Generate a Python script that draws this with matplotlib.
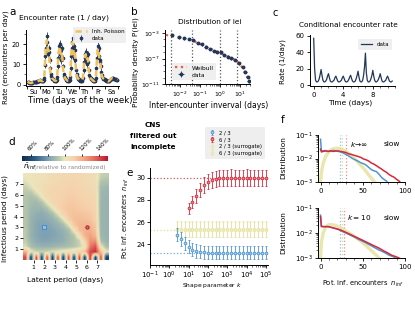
import numpy as np
import matplotlib
matplotlib.use('Agg')
import matplotlib.pyplot as plt
from matplotlib.colors import LinearSegmentedColormap
from matplotlib.ticker import LogLocator, NullFormatter, FixedLocator, MultipleLocator

# ---------------- data ----------------
# panel a: hourly encounter rate per day of week
day_names = ['Su', 'Mo', 'Tu', 'We', 'Th', 'Fr', 'Sa']
rate_su = [1.5, 1.3, 1.1, 1.0, 0.9, 0.8, 0.8, 0.8, 0.9, 1.0, 1.1, 1.2, 1.2, 1.3, 1.3, 1.3, 1.4, 1.5, 1.6, 1.7, 1.8, 1.9, 2.0, 2.2]
rate_mo = [2.2, 2.0, 1.8, 1.7, 1.7, 1.8, 2.2, 3.5, 9.5, 14, 17, 18, 24, 21, 15, 18, 16, 12, 8, 5, 4.0, 3.5, 3.0, 2.8]
rate_tu = [2.6, 2.3, 2.0, 1.9, 1.9, 2.0, 2.4, 3.8, 9, 13, 16, 19, 20, 15, 12, 17, 18, 13, 9, 5, 4.2, 3.6, 3.1, 2.8]
rate_we = [2.5, 2.2, 2.0, 1.9, 1.9, 2.0, 2.4, 3.8, 8, 14, 18, 21, 23, 16, 13, 19, 17, 12, 7, 5, 4.0, 3.4, 3.0, 2.7]
rate_th = [2.5, 2.2, 2.0, 1.9, 1.9, 2.0, 2.3, 3.5, 7, 11, 13, 15, 16, 12, 10, 14, 15, 11, 7, 4.5, 3.8, 3.2, 2.9, 2.6]
rate_fr = [2.4, 2.1, 1.9, 1.8, 1.8, 1.9, 2.2, 3.4, 8, 13, 17, 19, 18, 14, 11, 12, 9, 6, 4.5, 3.8, 3.3, 3.0, 2.8, 2.6]
rate_sa = [2.4, 2.2, 2.0, 1.8, 1.7, 1.6, 1.6, 1.7, 1.9, 2.2, 2.5, 2.8, 3.0, 3.1, 3.2, 3.1, 3.0, 2.9, 2.8, 2.7, 2.6, 2.5, 2.5, 2.4]
err_weekday = [0.4, 0.4, 0.4, 0.4, 0.4, 0.4, 0.4, 0.6, 1.2, 1.5, 1.7, 2.0, 2.2, 1.8, 1.6, 1.8, 1.7, 1.4, 1.0, 0.7, 0.5, 0.5, 0.4, 0.4]
err_weekend = [0.3] * 24
poi_su = [1.5, 1.3, 1.1, 1.0, 0.9, 0.8, 0.8, 0.8, 0.9, 1.0, 1.1, 1.2, 1.2, 1.3, 1.3, 1.3, 1.4, 1.5, 1.6, 1.7, 1.8, 1.9, 2.0, 2.2]
poi_mo = [2.2, 2.0, 1.8, 1.7, 1.7, 1.8, 2.2, 3.5, 9, 14, 18, 20, 22, 19, 17, 17, 15, 11, 7, 5, 4.0, 3.5, 3.0, 2.8]
poi_tu = [2.6, 2.3, 2.0, 1.9, 1.9, 2.0, 2.4, 3.8, 8.5, 13, 16, 18, 19, 16, 15, 16, 16, 12, 8, 5, 4.2, 3.6, 3.1, 2.8]
poi_we = [2.5, 2.2, 2.0, 1.9, 1.9, 2.0, 2.4, 3.8, 8, 14, 18, 20, 21, 17, 15, 17, 16, 11, 7, 5, 4.0, 3.4, 3.0, 2.7]
poi_th = [2.5, 2.2, 2.0, 1.9, 1.9, 2.0, 2.3, 3.5, 7, 11, 13, 14, 15, 13, 12, 13, 13, 10, 7, 4.5, 3.8, 3.2, 2.9, 2.6]
poi_fr = [2.4, 2.1, 1.9, 1.8, 1.8, 1.9, 2.2, 3.4, 8, 13, 16, 18, 17, 14, 12, 11, 9, 6, 4.5, 3.8, 3.3, 3.0, 2.8, 2.6]
poi_sa = [2.4, 2.2, 2.0, 1.8, 1.7, 1.6, 1.6, 1.7, 1.9, 2.2, 2.5, 2.8, 3.0, 3.1, 3.2, 3.1, 3.0, 2.9, 2.8, 2.7, 2.6, 2.5, 2.5, 2.4]

# panel b: inter-encounter interval distribution
iei_x = [3.8e-3, 9.3e-3, 1.66e-2, 2.95e-2, 4.7e-2, 7.6e-2, 0.12, 0.2, 0.32, 0.5, 0.74,
         1.07, 1.66, 2.4, 3.5, 5.6, 8.3, 13.2, 17.8, 23.4, 28.2]
iei_y = [4.9e-4, 2.1e-4, 1.45e-4, 1.15e-4, 7.9e-5, 3.0e-5, 1.66e-5, 7.1e-6, 3.5e-6, 1.7e-6, 1.05e-6,
         9.3e-7, 3.5e-7, 2.0e-7, 1.07e-7, 6.3e-8, 1.74e-8, 5.2e-9, 8.5e-10, 1.4e-10, 2.5e-11]
weib_x = [2e-3, 5e-3, 1e-2, 3e-2, 0.1, 0.3, 0.7, 1.0, 2, 5, 10, 20, 30]
weib_y = [5.0e-4, 2.8e-4, 1.8e-4, 1.0e-4, 2.0e-5, 4.0e-6, 1.26e-6, 7.9e-7, 2.5e-7, 7.9e-8, 1.26e-8, 4.0e-10, 1.6e-11]
iei_marks = [3.47e-3, 4.17e-2, 1.0, 7.0]  # 5 min, 1 h, 1 day, 1 week

# panel c: conditional encounter rate (8 samples per day)
cond_rate = [57, 20, 6, 4, 4, 5, 8, 13,
             19, 12, 6, 4, 4, 5, 7, 11,
             14, 9, 5, 4, 4, 5, 6, 9,
             11, 8, 5, 4, 4, 5, 6, 9,
             11, 8, 5, 4, 4, 5, 7, 10,
             12, 8, 5, 4, 4, 5, 8, 12,
             17, 10, 5, 4, 4, 6, 12, 22,
             39, 15, 6, 4, 4, 5, 8, 12,
             18, 11, 6, 4, 4, 5, 7, 10,
             14, 9, 5, 4, 4, 5, 6, 9,
             11, 8, 5, 4, 4, 5]

# panel d: n_inf relative to randomized (%), rows: infectious period 7.75 -> 0.25, cols: latent 0.25 -> 7.75
ninf_rel = [
    [100, 101, 102, 103, 104, 105, 106, 107, 107, 107, 107, 106, 105, 104, 95, 94],
    [99, 101, 102, 103, 104, 106, 107, 107, 108, 108, 107, 106, 105, 104, 92, 91],
    [95, 99, 103, 104, 106, 107, 108, 108, 109, 109, 108, 107, 106, 105, 89, 88],
    [93, 93, 99, 104, 107, 108, 109, 109, 110, 110, 109, 108, 107, 106, 88, 87],
    [92, 90, 92, 99, 106, 108, 109, 110, 111, 111, 110, 109, 108, 107, 88, 86],
    [92, 89, 88, 91, 99, 107, 109, 111, 112, 112, 111, 110, 109, 107, 87, 86],
    [92, 88, 87, 87, 91, 99, 108, 111, 113, 113, 112, 111, 110, 108, 87, 86],
    [92, 87, 85, 84, 86, 90, 99, 109, 113, 114, 114, 113, 112, 109, 87, 86],
    [92, 86, 84, 83, 84, 86, 90, 99, 111, 115, 116, 115, 114, 110, 87, 86],
    [92, 86, 83, 82, 82, 84, 86, 90, 99, 113, 117, 118, 117, 112, 87, 86],
    [93, 86, 83, 81, 81, 82, 84, 86, 90, 101, 116, 119, 120, 114, 87, 86],
    [93, 86, 83, 81, 81, 82, 83, 85, 88, 92, 104, 119, 123, 117, 88, 86],
    [94, 87, 84, 82, 82, 83, 84, 85, 88, 91, 95, 109, 126, 126, 90, 87],
    [97, 90, 87, 86, 86, 87, 88, 89, 90, 92, 95, 100, 131, 138, 100, 90],
    [120, 100, 96, 95, 96, 98, 100, 102, 104, 106, 108, 115, 140, 145, 115, 100],
    [140, 58, 140, 58, 140, 58, 140, 58, 140, 58, 140, 58, 145, 58, 140, 58],
]
cb_ticks = [60, 80, 100, 120, 140]
mark_blue = (2, 3)
mark_red = (6, 3)

# panel e: n_inf vs shape parameter k
k_blue = 10 ** np.arange(0.4, 5.01, 0.2)
n_blue = [24.85, 24.45, 24.06, 23.76, 23.5, 23.36, 23.3, 23.25, 23.22, 23.2, 23.2, 23.2,
          23.2, 23.2, 23.2, 23.2, 23.2, 23.2, 23.2, 23.2, 23.2, 23.2, 23.2, 23.2]
e_blue = [0.6] * 24
k_red = 10 ** np.arange(1.0, 5.01, 0.2)
n_red = [27.25, 27.85, 28.36, 28.9, 29.36, 29.67, 29.8, 29.9, 30.0, 30.0, 30.0, 30.02, 30.0,
         30.01, 30.0, 30.02, 30.0, 30.0, 30.01, 30.0, 30.0]
e_red = [0.5, 0.55, 0.6, 0.65, 0.7, 0.72, 0.75, 0.75, 0.75, 0.75, 0.75, 0.75, 0.75,
         0.75, 0.75, 0.75, 0.75, 0.75, 0.75, 0.75, 0.75]
n_sur23 = [25.35] * 24
n_sur63 = [25.3] * 24
e_sur = [0.7] * 24
ref_blue, ref_red, ref_sur = 23.2, 30.0, 25.32

# panel f: distributions of n_inf
n_f = [0, 1, 3, 6, 9, 12, 15, 18, 21, 24, 27, 30, 33, 36, 39, 42, 45, 48, 51, 54, 57, 60, 63, 66, 69, 72, 75, 78, 81, 84, 87, 90, 93, 96]
f_top_blue = [.066, .022, .021, .022, .020, .021, .022, .021, .020, .019, .017, .015, .013, .011, .0095, .0085, .0075,
              .0065, .006, .0052, .0042, .0034, .0030, .0028, .0022, .0016, .0013, .0011, .0008, np.nan, np.nan, np.nan, np.nan, np.nan]
f_top_red = [.025, .019, .020, .021, .020, .021, .020, .021, .021, .020, .019, .018, .016, .015, .014, .013, .012,
             .011, .0095, .0088, .0078, .0065, .0058, .0050, .0042, .0036, .0030, .0026, .0021, .0018, .0016, .0013, .0011, .0008]
f_top_sur = [.001, .0025, .006, .012, .018, .023, .026, .027, .027, .026, .023, .020, .017, .014, .011, .0085, .0065,
             .005, .0038, .0028, .002, .0015, .0011, .0008, np.nan, np.nan, np.nan, np.nan, np.nan, np.nan, np.nan, np.nan, np.nan, np.nan]
f_bot_blue = [.052, .019, .018, .018, .018, .017, .016, .015, .014, .0125, .011, .010, .009, .008, .0072, .0064, .0056,
              .005, .0045, .004, .0035, .0031, .0027, .0024, .0021, .0019, .0017, .0015, .0013, .0012, .0011, .0009, np.nan, np.nan]
f_bot_red = [.045, .018, .018, .018, .018, .017, .016, .015, .014, .013, .0118, .0106, .0095, .0085, .0076, .0068, .0061,
             .0055, .0049, .0044, .0039, .0035, .0031, .0028, .0025, .0022, .0019, .0017, .0015, .0013, .0012, .0011, .0010, .0008]
f_bot_sur = [.001, .004, .010, .017, .021, .022, .021, .020, .018, .016, .014, .012, .0105, .009, .0077, .0065, .0055,
             .0046, .0038, .0031, .0025, .002, .0016, .0013, .001, .0008, np.nan, np.nan, np.nan, np.nan, np.nan, np.nan, np.nan, np.nan]
f_top_marks = [23.2, 25.3, 30.0]
f_bot_marks = [23.6, 25.3, 27.3]

# ---------------- style ----------------
NAVY = '#22375a'
GOLD = '#f3c15b'
RED = '#d62839'
BLUE = '#4f95d2'
PALE = '#e6e2a0'
W, H = 415, 319
plt.rcParams.update({
    'font.family': ['DejaVu Sans'],
    'font.size': 5,
    'axes.linewidth': 0.7,
    'xtick.major.width': 0.6, 'ytick.major.width': 0.6,
    'xtick.minor.width': 0.4, 'ytick.minor.width': 0.4,
    'xtick.major.size': 2.5, 'ytick.major.size': 2.5,
    'xtick.minor.size': 1.4, 'ytick.minor.size': 1.4,
    'xtick.major.pad': 1.5, 'ytick.major.pad': 1.5,
    'axes.spines.top': False, 'axes.spines.right': False,
    'xtick.labelsize': 4.8, 'ytick.labelsize': 4.8,
    'legend.fontsize': 4.0,
})

fig = plt.figure(figsize=(W / 100, H / 100), dpi=100)


def axbox(l, t, r, b):
    return fig.add_axes([l / W, 1 - b / H, (r - l) / W, (b - t) / H])


def ftext(x, y, s, **kw):
    kw.setdefault('ha', 'center')
    kw.setdefault('va', 'center')
    return fig.text(x / W, 1 - y / H, s, **kw)


# ---------------- panel a ----------------
axa = axbox(26, 30, 119, 86)
rate = np.concatenate([rate_su, rate_mo, rate_tu, rate_we, rate_th, rate_fr, rate_sa])
poi = np.concatenate([poi_su, poi_mo, poi_tu, poi_we, poi_th, poi_fr, poi_sa])
err = np.concatenate([err_weekend] + [err_weekday] * 5 + [err_weekend])
t_hours = (np.arange(len(rate)) + 0.5) / 24
axa.plot(t_hours, poi, color=GOLD, lw=1.8, ls=(0, (2.5, 1.8)), label='Inh. Poisson', zorder=3)
axa.errorbar(t_hours, rate, yerr=err, fmt='o', ms=1.6, color=NAVY, elinewidth=0.6, capsize=0,
             label='data', zorder=2)
axa.set_xlim(-0.1, 7.1)
axa.set_ylim(-0.7, 27)
axa.xaxis.set_major_locator(FixedLocator(range(8)))
axa.xaxis.set_major_formatter(NullFormatter())
axa.set_xticks(np.arange(7) + 0.5, day_names, minor=True)
axa.tick_params(axis='x', which='minor', length=0, labelsize=4.8, pad=2)
axa.set_yticks([0, 10, 20])
axa.yaxis.set_minor_locator(MultipleLocator(5))
axa.legend(loc='upper right', bbox_to_anchor=(1.11, 1.1), frameon=True, facecolor='#eeeeee',
           edgecolor='none', framealpha=0.9, handlelength=2.2, borderpad=0.4, labelspacing=0.3)
ftext(13, 12, 'a', fontsize=7.5)
ftext(64, 18, 'Encounter rate (1 / day)', fontsize=5.4)
ftext(80, 100, 'Time (days of the week)', fontsize=6.2)
ftext(6, 57, 'Rate (encounters per day)', fontsize=5.1, rotation=90)

# ---------------- panel b ----------------
axb = axbox(165, 30, 250, 84)
for m in iei_marks:
    axb.axvline(m, color='#555555', ls=':', lw=0.9, zorder=1)
axb.plot(weib_x, weib_y, color='#ee5a45', ls=':', lw=1.6, label='Weibull', zorder=3)
ix = np.array(iei_x)
axb.errorbar(iei_x, iei_y, xerr=[ix * (1 - 10 ** -0.09), ix * (10 ** 0.09 - 1)],
             yerr=[np.array(iei_y) * 0.35, np.array(iei_y) * 0.5], fmt='o', ms=1.8, color=NAVY,
             elinewidth=0.6, capsize=0, label='data', zorder=4)
axb.set_xscale('log')
axb.set_yscale('log')
axb.set_xlim(1.8e-3, 31)
axb.set_ylim(1e-11, 3e-3)
axb.xaxis.set_major_locator(FixedLocator([1e-2, 1e-1, 1e0, 1e1]))
axb.xaxis.set_minor_locator(LogLocator(base=10, subs=np.arange(2, 10), numticks=20))
axb.xaxis.set_minor_formatter(NullFormatter())
axb.yaxis.set_major_locator(FixedLocator([1e-11, 1e-7, 1e-3]))
axb.yaxis.set_minor_locator(FixedLocator([10.0 ** e for e in range(-11, -2)]))
axb.yaxis.set_minor_formatter(NullFormatter())
axb.tick_params(labelsize=4.4)
axb.legend(loc='lower left', bbox_to_anchor=(0.05, 0.02), facecolor='#eeeeee', edgecolor='none',
           framealpha=0.9, handlelength=2.0, borderpad=0.4, labelspacing=0.3, fontsize=4.3)
ftext(134, 12, 'b', fontsize=7.5)
ftext(210, 22, 'Distribution of iei', fontsize=5.3)
ftext(209, 106, 'Inter-encounter inverval (days)', fontsize=5.5)
ftext(136, 62, 'Probability density P(iei)', fontsize=5.3, rotation=90)

# ---------------- panel c ----------------
axc = axbox(310, 35, 395, 86)
t_c = np.arange(len(cond_rate)) / 8
axc.plot(t_c, cond_rate, color=NAVY, lw=0.9, label='data')
axc.set_xlim(-0.5, 11)
axc.set_ylim(-1, 61)
axc.set_xticks([0, 4, 8])
axc.xaxis.set_minor_locator(MultipleLocator(1))
axc.set_yticks([0, 20, 40, 60])
axc.tick_params(labelsize=5)
axc.legend(loc='upper right', bbox_to_anchor=(1.0, 0.97), facecolor='#eeeeee', edgecolor='none',
           framealpha=0.9, handlelength=2.0, borderpad=0.5, fontsize=4.0)
ftext(275, 13, 'c', fontsize=7)
ftext(348, 25, 'Conditional encounter rate', fontsize=5.3)
ftext(350, 103, 'Time (days)', fontsize=5.4)
ftext(283, 62, 'Rate (1/day)', fontsize=5.2, rotation=90)

# ---------------- panel d ----------------
cmap = LinearSegmentedColormap.from_list('nrel', [
    (0.0, '#112c4e'), (0.15, '#2c5a80'), (0.3, '#7a9fb4'), (0.42, '#b4c5ab'),
    (0.5, '#ebe6bd'), (0.6, '#f6d2ac'), (0.72, '#f2a883'), (0.85, '#e3665a'), (1.0, '#bb1530')])
axd = axbox(23, 173, 108, 260)
im = axd.imshow(np.array(ninf_rel, dtype=float), extent=(0, 8, 0, 8), origin='upper',
                interpolation='bilinear', cmap=cmap, vmin=50, vmax=150, aspect='auto')
axd.plot(*mark_blue, marker='s', ms=2.6, mfc='#8cc0ea', mec='#3f86c8', mew=0.6)
axd.plot(*mark_red, marker='o', ms=2.4, mfc='#e46a6a', mec='#a01020', mew=0.6)
for s in axd.spines.values():
    s.set_visible(False)
axd.set_xticks(range(1, 8))
axd.set_yticks(range(1, 8))
axd.tick_params(labelsize=4.5, length=2)
axd.set_xlim(0, 8)
axd.set_ylim(0, 8)
cax = axbox(22, 156, 108, 160.5)
cb = fig.colorbar(im, cax=cax, orientation='horizontal')
cb.outline.set_visible(False)
cb.set_ticks(cb_ticks)
cax.xaxis.set_ticks_position('top')
cax.set_xticklabels([f'{v}%' for v in cb_ticks], rotation=45, ha='left', va='bottom',
                    rotation_mode='anchor', fontsize=4.0)
cax.tick_params(length=1.8, pad=1)
ftext(12, 142, 'd', fontsize=7.5)
ftext(30, 167, r'$\bar{n}_{inf}$', fontsize=5.2)
ftext(70, 167, '(relative to randomized)', fontsize=4.2, color='#888888')
ftext(65, 280, 'Latent period (days)', fontsize=5.4)
ftext(5, 219, 'Infectious period (days)', fontsize=5.3, rotation=90)

# ---------------- panel e ----------------
axe = axbox(150, 168, 268, 265)
axe.axhline(ref_red, color=RED, ls=':', lw=0.9, alpha=0.8, zorder=1)
axe.axhline(ref_blue, color=BLUE, ls=':', lw=0.9, alpha=0.8, zorder=1)
axe.axhline(ref_sur, color='#dedc8a', ls=':', lw=0.9, alpha=0.9, zorder=1)
eb_kw = dict(fmt='o', ms=2.0, elinewidth=0.6, capsize=1.0, capthick=0.6, mew=0.6)
h1 = axe.errorbar(k_blue, n_blue, yerr=e_blue, color=BLUE, mfc='#a8cdee', label='2 / 3', zorder=4, **eb_kw)
h2 = axe.errorbar(k_red, n_red, yerr=e_red, color=RED, mfc='#ec8a8a', label='6 / 3', zorder=4, **eb_kw)
h3 = axe.errorbar(k_blue, n_sur23, yerr=e_sur, color=PALE, mfc='#f3f1cc', label='2 / 3 (surrogate)',
                  zorder=3, alpha=0.8, **eb_kw)
h4 = axe.errorbar(k_blue, n_sur63, yerr=e_sur, color=PALE, mfc='#f3f1cc', label='6 / 3 (surrogate)',
                  zorder=3, alpha=0.8, **eb_kw)
axe.set_xscale('log')
axe.set_xlim(0.1, 1.3e5)
axe.set_ylim(22.1, 30.9)
axe.set_yticks([24, 26, 28, 30])
axe.xaxis.set_major_locator(LogLocator(base=10, numticks=10))
axe.xaxis.set_minor_locator(LogLocator(base=10, subs=np.arange(2, 10), numticks=20))
axe.xaxis.set_minor_formatter(NullFormatter())
axe.tick_params(labelsize=5.0, pad=1)
axe.legend(handles=[h1, h2, h3, h4], loc='upper right', bbox_to_anchor=(1.0, 1.45), facecolor='#eeeeee',
           edgecolor='none', framealpha=0.95, fontsize=3.8, handlelength=1.2, borderpad=0.6,
           labelspacing=0.35)
ftext(130, 173, 'e', fontsize=7.5)
ftext(153, 125, 'CNS', fontsize=5.2, fontweight='bold')
ftext(153, 136.5, 'filtered out', fontsize=5.2, fontweight='bold')
ftext(153, 147.5, 'incomplete', fontsize=5.2, fontweight='bold')
ftext(212, 285, 'Shape parameter $k$', fontsize=4.3)
ftext(126, 218, r'Pot. inf. encounters  $n_{inf}$', fontsize=4.8, rotation=90)

# ---------------- panel f ----------------
def fpanel(ax, blue, red, sur, marks, txt):
    for m, c in zip(marks, ['#8cc0ea', '#e0dd9a', '#ec8a8a']):
        ax.axvline(m, color=c, ls=':', lw=0.9, zorder=1)
    ax.plot(n_f, sur, color=PALE, lw=2.4, alpha=0.85, zorder=2)
    ax.plot(n_f, blue, color=BLUE, lw=1.1, zorder=3)
    ax.plot(n_f, red, color=RED, lw=1.1, zorder=4)
    ax.set_yscale('log')
    ax.set_ylim(1e-3, 1e-1)
    ax.set_xlim(-3, 100)
    ax.set_xticks([0, 50, 100])
    ax.xaxis.set_minor_locator(MultipleLocator(10))
    ax.yaxis.set_minor_locator(LogLocator(base=10, subs=np.arange(2, 10), numticks=10))
    ax.yaxis.set_minor_formatter(NullFormatter())
    ax.tick_params(labelsize=5.0)
    ax.text(0.47, 0.8, txt, transform=ax.transAxes, fontsize=5.3, ha='center', va='center')
    ax.text(0.85, 0.8, 'slow', transform=ax.transAxes, fontsize=5.3, ha='center', va='center')


axf1 = axbox(318, 135, 405, 182)
fpanel(axf1, f_top_blue, f_top_red, f_top_sur, f_top_marks, r'$k\!\rightarrow\!\infty$')
axf2 = axbox(318, 208, 405, 258)
fpanel(axf2, f_bot_blue, f_bot_red, f_bot_sur, f_bot_marks, r'$k = 10$')
ftext(283, 120, 'f', fontsize=7.5)
ftext(283, 158, 'Distribution', fontsize=5.3, rotation=90)
ftext(283, 233, 'Distribution', fontsize=5.3, rotation=90)
ftext(363, 284, r'Pot. inf. encounters  $n_{inf}$', fontsize=4.8)

fig.savefig('out.png', dpi=100)
